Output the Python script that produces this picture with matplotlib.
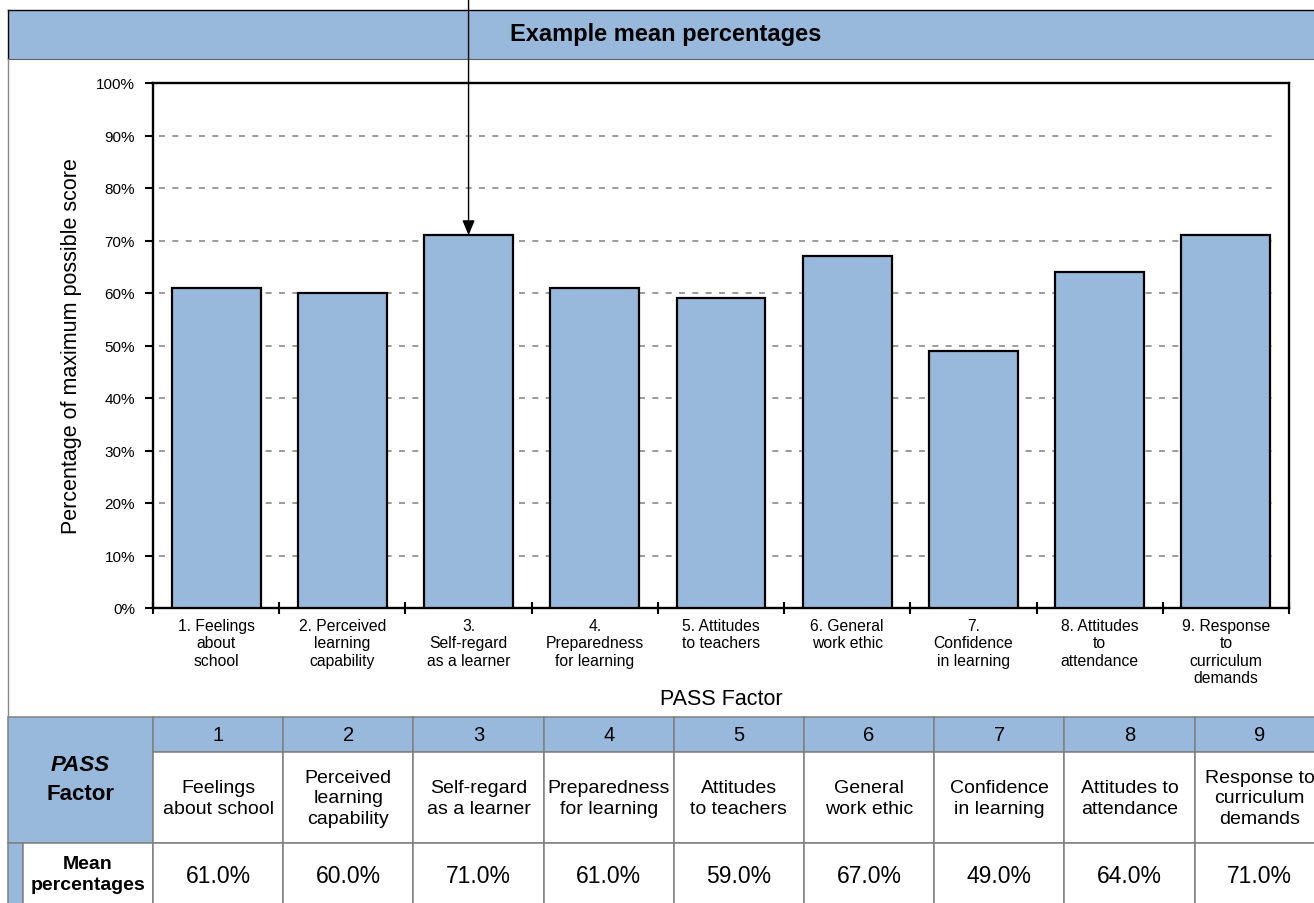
import matplotlib
matplotlib.use("Agg")
import matplotlib.pyplot as plt
from matplotlib.patches import Rectangle

plt.rcParams['font.family'] = ['Liberation Sans', 'DejaVu Sans']
plt.rcParams['lines.scale_dashes'] = False

# ---- data ----
title = "Example mean percentages"
axis_labels = ["1. Feelings\nabout\nschool", "2. Perceived\nlearning\ncapability",
               "3.\nSelf-regard\nas a learner", "4.\nPreparedness\nfor learning",
               "5. Attitudes\nto teachers", "6. General\nwork ethic",
               "7.\nConfidence\nin learning", "8. Attitudes\nto\nattendance",
               "9. Response\nto\ncurriculum\ndemands"]
factor_numbers = ["1", "2", "3", "4", "5", "6", "7", "8", "9"]
factor_names = ["Feelings\nabout school", "Perceived\nlearning\ncapability",
                "Self-regard\nas a learner", "Preparedness\nfor learning",
                "Attitudes\nto teachers", "General\nwork ethic",
                "Confidence\nin learning", "Attitudes to\nattendance",
                "Response to\ncurriculum\ndemands"]
mean_pct = [61, 60, 71, 61, 59, 67, 49, 64, 71]
y_ticks = [0, 10, 20, 30, 40, 50, 60, 70, 80, 90, 100]
highlight_index = 2

# ---- style ----
W, H = 1314, 904
BLUE = '#98B9DC'
GRID = '#8a8a8a'
CELL_EDGE = '#7f7f7f'

fig = plt.figure(figsize=(W / 100, H / 100), dpi=100)

bg = fig.add_axes([0, 0, 1, 1], zorder=0)
bg.set_xlim(0, W)
bg.set_ylim(H, 0)
bg.axis('off')

# title bar
bg.add_patch(Rectangle((8, 11), W, 49, facecolor=BLUE, edgecolor='none'))
bg.plot([8, W], [11, 11], color='black', lw=1.0)
bg.plot([8, 8], [11, 60], color='black', lw=1.0)
bg.plot([8, W], [60, 60], color='#606060', lw=0.8)
bg.text(666, 35, title, ha='center', va='center', fontsize=17, fontweight='bold')
# chart area left border
bg.plot([8, 8], [60, 718], color='#8a8a8a', lw=1.0)

# ---- table ----
col_w = 130.2
tab_x0 = 153
row_y = [718, 753, 844, 912]


def cell(x0, y0, x1, y1, fc):
    bg.add_patch(Rectangle((x0, y0), x1 - x0, y1 - y0, facecolor=fc,
                           edgecolor=CELL_EDGE, lw=1.1))


cell(8, row_y[0], tab_x0, row_y[2], BLUE)
bg.text(80.5, 766, "PASS", ha='center', va='center', fontsize=16, fontweight='bold',
        fontstyle='italic')
bg.text(80.5, 795, "Factor", ha='center', va='center', fontsize=16, fontweight='bold')
cell(8, row_y[2], 23, row_y[3], BLUE)
cell(23, row_y[2], tab_x0, row_y[3], 'white')
bg.text(88, 875, "Mean\npercentages", ha='center', va='center', fontsize=14,
        fontweight='bold', linespacing=1.35)

for i in range(len(mean_pct)):
    x0 = tab_x0 + i * col_w
    x1 = x0 + col_w
    xc = (x0 + x1) / 2
    cell(x0, row_y[0], x1, row_y[1], BLUE)
    cell(x0, row_y[1], x1, row_y[2], 'white')
    cell(x0, row_y[2], x1, row_y[3], 'white')
    bg.text(xc, 736, factor_numbers[i], ha='center', va='center', fontsize=14.5)
    bg.text(xc, 799, factor_names[i], ha='center', va='center', fontsize=14,
            linespacing=1.27)
    bg.text(xc, 877, f"{mean_pct[i]:.1f}%", ha='center', va='center', fontsize=16.5)

# ---- bar chart ----
L, R, T, B = 153, 1289, 84, 609
ax = fig.add_axes([L / W, 1 - B / H, (R - L) / W, (B - T) / H], zorder=2)
x = list(range(len(mean_pct)))
ax.bar(x, mean_pct, width=0.705, color=BLUE, edgecolor='black', linewidth=1.6, zorder=3)
ax.set_xlim(-0.5, len(mean_pct) - 0.5)
ax.set_ylim(0, 100)

for yv in y_ticks[1:-1]:
    ax.plot([-0.45, 8.4], [yv, yv], color=GRID, lw=1.2, dashes=(4.3, 5.3), zorder=1)

ax.set_yticks(y_ticks)
ax.set_yticklabels([f"{v}%" for v in y_ticks], fontsize=11)
ax.tick_params(axis='y', direction='out', length=6, width=1.5, pad=7)
ax.set_xticks(x)
ax.set_xticklabels(axis_labels, fontsize=11.3, linespacing=1.2)
ax.tick_params(axis='x', which='major', length=0, pad=7)
ax.set_xticks([i - 0.5 for i in range(len(mean_pct) + 1)], minor=True)
ax.tick_params(axis='x', which='minor', direction='inout', length=9, width=1.5)
for s in ax.spines.values():
    s.set_linewidth(1.7)
ax.set_ylabel("Percentage of maximum possible score", fontsize=15.5, labelpad=10)
ax.set_xlabel("PASS Factor", fontsize=15.5, labelpad=2)

ax.annotate('', xy=(highlight_index, mean_pct[highlight_index]), xycoords='data',
            xytext=(highlight_index, 1.0), textcoords=('data', 'figure fraction'),
            arrowprops=dict(arrowstyle='-|>,head_length=0.6,head_width=0.25',
                            color='black', lw=1.0, mutation_scale=15,
                            shrinkA=0, shrinkB=0),
            annotation_clip=False, zorder=10)

fig.savefig("out.png", dpi=100)
